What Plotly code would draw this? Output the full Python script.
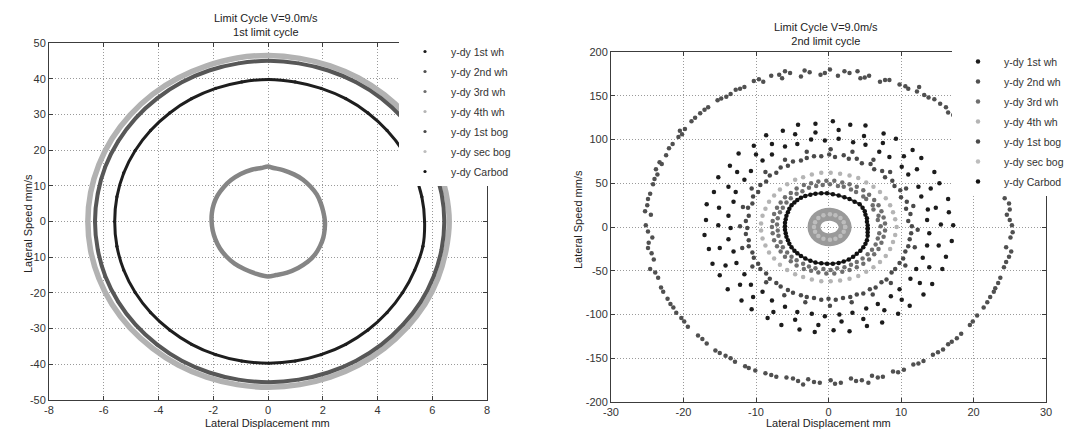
import plotly.graph_objects as go

W, H = 1070, 432
FONT = "Liberation Sans, Arial, sans-serif"

# ---------------- labels ----------------
series_names = ["y-dy 1st wh", "y-dy 2nd wh", "y-dy 3rd wh", "y-dy 4th wh",
                "y-dy 1st bog", "y-dy sec bog", "y-dy Carbod"]
legend_colors = ["#1c1c1c", "#505050", "#6e6e6e", "#b4b4b4", "#4a4a4a", "#bdbdbd", "#111111"]
title_left = "Limit Cycle V=9.0m/s<br>1st limit cycle"
title_right = "Limit Cycle V=9.0m/s<br>2nd limit cycle"
x_label = "Lateral Displacement mm"
y_label = "Lateral Speed mm/s"

L_xtick_vals = [-8, -6, -4, -2, 0, 2, 4, 6, 8]
L_xtick_text = ["-8", "-6", "-4", "-2", "0", "2", "4", "6", "8"]
L_ytick_vals = [-50, -40, -30, -20, -10, 0, 10, 20, 30, 40, 50]
L_ytick_text = ["-50", "-40", "-30", "-20", "-10", "0", "10", "20", "30", "40", "50"]
R_xtick_vals = [-30, -20, -10, 0, 10, 20, 30]
R_xtick_text = ["-30", "-20", "-10", "0", "10", "20", "30"]
R_ytick_vals = [-200, -150, -100, -50, 0, 50, 100, 150, 200]
R_ytick_text = ["-200", "-150", "-100", "-50", "0", "50", "100", "150", "200"]

# ---------------- left panel (1st limit cycle) ----------------
L_outer_x = [6.62, 6.50, 6.21, 5.73, 5.06, 4.25, 3.31, 2.27, 1.16, 0.02, -1.13, -2.24, -3.28, -4.22, -5.04, -5.70, -6.18, -6.48, -6.58,
             -6.48, -6.18, -5.70, -5.04, -4.22, -3.28, -2.24, -1.13, 0.02, 1.16, 2.27, 3.31, 4.25, 5.06, 5.73, 6.21, 6.50, 6.62]
L_outer_y = [0, 8.1, 15.9, 23.2, 29.8, 35.5, 40.2, 43.6, 45.7, 46.5, 45.8, 43.6, 40.2, 35.6, 29.8, 23.2, 15.9, 8.1, 0,
             -8.1, -15.9, -23.2, -29.8, -35.5, -40.2, -43.6, -45.7, -46.4, -45.7, -43.6, -40.2, -35.5, -29.8, -23.2, -15.9, -8.1, 0]
L_mid_x = [6.44, 6.34, 6.05, 5.58, 4.93, 4.14, 3.22, 2.20, 1.12, 0.03, -1.08, -2.15, -3.15, -4.05, -4.84, -5.47, -5.94, -6.22, -6.32,
           -6.22, -5.94, -5.47, -4.84, -4.05, -3.15, -2.15, -1.08, 0.03, 1.12, 2.20, 3.22, 4.14, 4.93, 5.58, 6.05, 6.34, 6.44]
L_mid_y = [0, 7.8, 15.4, 22.5, 28.9, 34.5, 39.0, 42.3, 44.3, 45.0, 44.3, 42.3, 39.0, 34.5, 28.9, 22.5, 15.4, 7.8, 0,
           -7.8, -15.4, -22.5, -28.9, -34.5, -39.0, -42.3, -44.3, -45.0, -44.3, -42.3, -39.0, -34.5, -28.9, -22.5, -15.4, -7.8, 0]
L_body_x = [5.72, 5.62, 5.34, 4.92, 4.35, 3.65, 2.84, 1.94, 0.99, 0.03, -0.96, -1.91, -2.79, -3.59, -4.29, -4.85, -5.27, -5.52, -5.60,
            -5.52, -5.27, -4.85, -4.29, -3.59, -2.79, -1.91, -0.96, 0.03, 0.99, 1.94, 2.84, 3.65, 4.35, 4.92, 5.36, 5.66, 5.72]
L_body_y = [0, 6.9, 13.6, 19.9, 25.5, 30.4, 34.4, 37.3, 39.1, 39.8, 39.1, 37.3, 34.4, 30.4, 25.5, 19.9, 13.6, 6.9, 0,
            -6.9, -13.6, -19.9, -25.5, -30.4, -34.4, -37.3, -39.1, -39.7, -39.1, -37.3, -34.4, -30.4, -25.5, -19.9, -13.6, -6.9, 0]
L_inner_x = [2.08, 2.02, 1.92, 1.78, 1.55, 1.28, 0.95, 0.55, 0.2, 0, -0.25, -0.6, -1.0, -1.35, -1.62, -1.84, -1.98, -2.05, -2.06,
             -2.02, -1.92, -1.76, -1.52, -1.22, -0.85, -0.45, 0, 0.3, 0.7, 1.1, 1.45, 1.72, 1.9, 2.02, 2.07, 2.08]
L_inner_y = [0, 2.7, 5.3, 7.6, 9.8, 11.7, 13.2, 14.4, 15.0, 15.4, 15.0, 14.5, 13.3, 11.6, 9.6, 7.3, 4.9, 2.4, 0,
             -2.5, -5.0, -7.5, -9.8, -11.8, -13.4, -14.6, -15.4, -15.0, -14.3, -13.0, -11.3, -9.2, -6.9, -4.5, -2.2, 0]

# which measured ring each series follows in the left panel (overlapping rings)
left_series_x = [L_mid_x, L_mid_x, L_outer_x, L_outer_x, L_inner_x, L_inner_x, L_body_x]
left_series_y = [L_mid_y, L_mid_y, L_outer_y, L_outer_y, L_inner_y, L_inner_y, L_body_y]
# visible ring bands (appearance of the overlapping markers)
left_band_x = [L_outer_x, L_mid_x, L_body_x, L_inner_x]
left_band_y = [L_outer_y, L_mid_y, L_body_y, L_inner_y]
left_band_color = ["#b2b2b2", "#575757", "#1e1e1e", "#858585"]
left_band_width = [5.5, 4, 3, 4.5]

# ---------------- right panel (2nd limit cycle) ----------------
R_2nd = [(25.3,2),(24.6,14),(25.0,20),(24.3,33),(24.8,41),(23.2,58),(22.9,64),(22.3,76),(21.2,90),(20.4,99),(19.6,111),
         (17.8,124),(16.5,131),(16.2,137),(14.6,146),(13.8,148),(12.2,155),(11.0,158),(9.8,163),(8.4,168),(7.1,166),
         (5.6,173),(4.4,170),(2.9,176),(1.3,173),(0.2,180),(-1.1,174),(-2.6,177),(-3.8,172),(-5.3,176),(-6.4,170),
         (-7.9,173),(-9.0,166),(-10.3,167),(-11.6,160),(-12.8,157),(-14.1,149),(-15.3,145),(-16.6,137),(-17.7,130),
         (-18.9,121),(-19.8,112),(-20.7,103),(-21.5,95),(-22.4,82),(-23.0,72),(-23.6,60),(-24.2,49),(-24.6,38),
         (-25.0,25),(-24.5,14),(-25.2,2),(-24.3,-12),(-24.9,-24),(-24.1,-37),(-24.6,-48),(-23.5,-58),(-23.1,-69),
         (-22.2,-82),(-21.4,-92),(-20.3,-104),(-19.4,-114),(-18.0,-124),(-16.8,-133),(-15.6,-141),(-14.2,-147),
         (-12.9,-154),(-11.5,-159),(-10.1,-164),(-8.7,-167),(-7.2,-171),(-5.8,-172),(-4.2,-176),(-2.8,-174),
         (-1.2,-178),(0.3,-175),(1.7,-178),(3.1,-173),(4.6,-175),(6.0,-170),(7.5,-171),(8.9,-165),(10.4,-163),
         (11.7,-157),(13.1,-153),(14.4,-146),(15.8,-140),(17.0,-131),(18.3,-122),(19.5,-112),(20.5,-101),
         (21.4,-92),(22.3,-80),(23.0,-70),(23.7,-58),(24.2,-46),(24.9,-34),(24.5,-23),(25.1,-12),
         (-20.5,110),(-13.5,152),(-6.0,178),(4.0,178),(12.5,160),(-23.8,66),(-24.9,-5),(-21.0,-98),(-13.5,-150),
         (-3.5,-180),(5.5,-178),(16.5,-134),(22.8,-74),(25.4,-6),
         (25.0,8),(24.9,27),(24.0,47),(23.6,52),(22.6,70),(21.7,84),(20.9,95),(19.0,117),(17.2,128),(15.4,141),
         (13.2,151),(10.6,161),(7.8,168),(5.0,171),(2.2,178),(-0.5,176),(-3.3,179),(-6.8,174),(-9.6,169),
         (-12.2,158),(-14.8,147),(-17.1,134),(-18.4,125),(-20.2,106),(-22.0,90),(-23.3,74),(-24.0,55),(-24.9,32),
         (-25.3,18),(-24.8,-18),(-24.4,-30),(-23.9,-52),(-22.8,-74),(-21.8,-88),(-19.9,-108),(-17.4,-128),
         (-15.0,-144),(-11.0,-161),(-7.9,-169),(-4.9,-173),(-2.0,-177),(0.9,-179),(3.8,-176),(6.8,-172),
         (9.6,-166),(12.4,-156),(15.1,-143),(17.7,-127),(19.9,-108),(21.9,-86),(23.4,-64),(24.5,-40),(25.2,-28)]

R_1st = [(17.2,2),(16.6,17),(16.5,32),(15.3,50),(14.6,63),(12.8,79),(11.6,88),(9.3,101),(7.6,107),(5.1,116),(3.0,117),
         (0.6,121),(-1.8,118),(-4.2,117),(-6.3,110),(-8.6,105),(-10.3,93),(-12.4,84),(-13.6,70),(-15.2,57),(-15.8,40),
         (-16.8,26),(-16.9,8),(-17.1,-9),(-16.5,-25),(-16.0,-42),(-15.0,-55),(-13.9,-71),(-12.0,-84),(-10.6,-94),
         (-8.4,-104),(-6.5,-112),(-4.0,-117),(-1.9,-120),(0.7,-118),(2.9,-119),(5.3,-113),(7.4,-109),(9.6,-99),
         (11.2,-90),(13.1,-77),(14.3,-65),(15.7,-48),(16.2,-34),(17.0,-16),
         (13.6,8),(13.7,20),(12.8,35),(12.4,46),(11.0,60),(10.1,69),(8.4,80),(7.0,86),(5.1,94),(3.4,97),(1.4,101),
         (-0.5,99),(-2.4,100),(-4.3,95),(-6.0,92),(-7.8,83),(-9.1,76),(-10.7,64),(-11.6,54),(-12.8,40),(-13.1,29),
         (-13.8,13),(-13.5,-1),(-13.8,-14),(-13.1,-28),(-12.7,-41),(-11.6,-54),(-10.7,-66),(-9.1,-74),(-7.8,-84),
         (-6.0,-91),(-4.3,-97),(-2.3,-99),(-0.5,-102),(1.5,-100),(3.3,-98),(5.2,-93),(6.8,-88),(8.6,-79),(9.8,-71),
         (11.3,-59),(12.1,-48),(13.0,-35),(13.6,-21),(13.9,-7),
         (15.5,3),(14.8,22),(14.1,44),(12.2,66),(10.4,81),(7.5,96),(4.9,104),(1.4,111),(-1.8,108),(-4.6,106),
         (-7.8,95),(-10.0,83),(-12.6,63),(-13.8,46),(-15.1,22),(-15.2,2),(-15.0,-24),(-14.2,-44),(-12.2,-66),
         (-10.4,-80),(-7.6,-97),(-4.6,-106),(-1.4,-112),(1.8,-108),(4.8,-105),(7.7,-95),(10.1,-83),(12.6,-64),
         (13.9,-46),(15.2,-21)]

R_3rd = [(7.2,1),(6.8,8),(6.9,13),(6.2,20),(6.1,25),(5.2,32),(4.8,35),(3.8,40),(3.1,43),(2.1,46),(1.3,47),(0.2,49),
         (-0.8,48),(-1.7,47),(-2.7,45),(-3.6,41),(-4.4,38),(-5.2,33),(-5.8,28),(-6.3,22),(-6.7,17),(-7.0,10),(-7.1,3),
         (-7.0,-4),(-6.9,-10),(-6.6,-17),(-6.3,-23),(-5.7,-29),(-5.1,-34),(-4.4,-38),(-3.5,-42),(-2.7,-45),(-1.8,-47),
         (-0.7,-48),(0.3,-49),(1.2,-47),(2.2,-46),(3.1,-43),(3.9,-40),(4.7,-36),(5.4,-31),(6.0,-26),(6.5,-20),
         (6.8,-13),(7.0,-7),
         (7.8,4),(7.6,11),(7.3,18),(6.9,25),(6.3,31),(5.6,37),(4.8,42),(3.9,46),(2.9,49),(1.9,51),(0.8,53),(-0.3,53),
         (-1.4,52),(-2.4,50),(-3.4,48),(-4.4,44),(-5.2,39),(-6.0,34),(-6.6,28),(-7.1,22),(-7.5,15),(-7.7,7),(-7.8,0),
         (-7.7,-7),(-7.5,-15),(-7.1,-22),(-6.6,-28),(-6.0,-34),(-5.2,-39),(-4.4,-44),(-3.4,-48),(-2.4,-50),(-1.4,-52),
         (-0.3,-53),(0.8,-53),(1.9,-51),(2.9,-49),(3.9,-46),(4.8,-42),(5.6,-37),(6.3,-31),(6.9,-25),(7.3,-18),
         (7.6,-11),(7.8,-4)]

R_4th = [(9.4,0),(9.2,9),(8.9,17),(8.5,25),(7.9,33),(7.1,40),(6.2,46),(5.2,51),(4.1,56),(2.9,59),(1.6,61),(0.3,62),
         (-1.0,62),(-2.3,60),(-3.5,57),(-4.6,54),(-5.7,49),(-6.7,43),(-7.5,36),(-8.2,29),(-8.7,21),(-9.1,13),(-9.3,4),
         (-9.3,-4),(-9.1,-13),(-8.7,-21),(-8.2,-29),(-7.5,-36),(-6.7,-43),(-5.7,-49),(-4.6,-54),(-3.5,-57),(-2.3,-60),
         (-1.0,-62),(0.3,-62),(1.6,-61),(2.9,-59),(4.1,-56),(5.2,-51),(6.2,-46),(7.1,-40),(7.9,-33),(8.5,-25),
         (8.9,-17),(9.2,-9)]

R_1bog = [(11.5,1),(11.0,7),(11.3,15),(10.7,21),(10.8,29),(10.0,34),(9.9,42),(9.1,47),(8.8,53),(7.8,57),(7.4,64),
          (6.3,66),(5.8,72),(4.6,73),(3.9,78),(2.8,78),(2.1,82),(0.9,80),
          (0.1,83),(-1.0,81),(-2.0,81),(-3.0,79),(-3.8,76),(-4.9,75),(-5.6,70),(-6.6,68),(-7.2,62),(-8.1,59),
          (-8.6,52),(-9.4,48),(-9.7,40),(-10.4,35),(-10.5,27),(-11.1,22),(-11.0,13),(-11.4,7),
          (-11.2,-1),(-11.4,-8),(-11.0,-15),(-11.0,-22),(-10.5,-29),(-10.3,-35),(-9.7,-42),(-9.4,-48),(-8.6,-53),
          (-8.1,-59),(-7.2,-64),(-6.6,-68),(-5.6,-72),(-4.9,-75),(-3.8,-78),(-3.0,-80),(-2.0,-81),(-1.0,-83),
          (0.0,-82),(1.0,-83),(2.0,-81),(3.0,-80),(3.9,-77),(4.8,-76),(5.7,-71),(6.5,-69),(7.3,-63),(8.0,-60),
          (8.7,-52),(9.2,-48),(9.8,-41),(10.3,-36),(10.6,-28),(11.0,-22),(11.2,-14),(11.4,-7),
          (12.3,-3),(11.7,24),(10.7,44),(8.5,63),(6.2,77),(3.3,86),(0.3,89),(-3.0,86),(-6.0,77),(-8.7,63),
          (-10.6,44),(-11.8,23),(-12.2,1),(-11.9,-24),(-10.5,-45),(-8.6,-63),(-6.1,-78),(-3.2,-86),(0.2,-90),
          (3.2,-86),(6.1,-77),(8.6,-64),(10.6,-44),(11.9,-23)]

R_secbog = [(2.3,0),(2.1,5.5),(1.65,10.2),(0.95,13.4),(0.2,14.6),(-0.7,13.5),(-1.4,10.4),(-1.85,5.5),(-2.0,0),
            (-1.85,-5.5),(-1.4,-10.4),(-0.7,-13.5),(0.2,-14.6),(0.95,-13.4),(1.65,-10.2),(2.1,-5.5),(2.3,0)]

R_carbod = [(5.4,-2),(5.4,2),(5.3,6),(5.3,10),(5.1,14),(5.0,18),(4.7,22),(4.3,26),(3.6,29),(2.9,32),(2.2,34),(1.4,36),
            (0.6,37.5),(-0.2,38.5),(-1.0,38.5),(-1.8,38),(-2.5,37),(-3.2,35.5),(-3.8,33.5),(-4.3,31),(-4.7,28),
            (-5.1,25),(-5.4,21),(-5.6,17),(-5.8,13),(-5.9,9),(-6.0,5),(-6.0,1),(-6.0,-3),(-5.9,-7),(-5.8,-11),
            (-5.6,-15),(-5.4,-19),(-5.1,-23),(-4.7,-27),(-4.3,-30),(-3.8,-33),(-3.2,-36),(-2.5,-38.5),(-1.8,-40.5),
            (-1.0,-41.5),(-0.2,-42),(0.6,-42),(1.4,-41),(2.1,-39.5),(2.8,-37),(3.4,-34),(3.9,-30.5),(4.4,-27),
            (4.8,-23),(5.1,-19),(5.3,-15),(5.4,-10),(5.4,-6),(5.4,-2)]

right_series = [R_1st, R_2nd, R_3rd, R_4th, R_1bog, R_secbog, R_carbod]

# ---------------- figure ----------------
fig = go.Figure()

def xs(pts):
    return [p[0] for p in pts]

def ys(pts):
    return [p[1] for p in pts]

# left panel: legend entries (markers), then visible ring bands on top
for i, name in enumerate(series_names):
    fig.add_trace(go.Scatter(
        x=left_series_x[i], y=left_series_y[i], mode="markers", name=name,
        marker=dict(size=3.2, color=legend_colors[i]), legend="legend",
        legendgroup="L%d" % i, xaxis="x", yaxis="y", hoverinfo="skip"))
for bx, by, c, w in zip(left_band_x, left_band_y, left_band_color, left_band_width):
    fig.add_trace(go.Scatter(
        x=bx, y=by, mode="lines", line=dict(color=c, width=w, shape="spline", smoothing=1.0),
        showlegend=False, xaxis="x", yaxis="y", hoverinfo="skip"))

# right panel
for i, name in enumerate(series_names):
    pts = right_series[i]
    if name == "y-dy sec bog":
        fig.add_trace(go.Scatter(
            x=xs(pts), y=ys(pts), mode="lines",
            line=dict(color="#9a9a9a", width=13, shape="spline", smoothing=1.0),
            showlegend=False, xaxis="x2", yaxis="y2", hoverinfo="skip"))
    if name == "y-dy Carbod":
        fig.add_trace(go.Scatter(
            x=xs(pts), y=ys(pts), mode="lines",
            line=dict(color="#3a3a3a", width=2, shape="spline", smoothing=1.0),
            showlegend=False, xaxis="x2", yaxis="y2", hoverinfo="skip"))
    fig.add_trace(go.Scatter(
        x=xs(pts), y=ys(pts), mode="markers", name=name,
        marker=dict(size=4.5, color=legend_colors[i]), legend="legend2",
        legendgroup="R%d" % i, xaxis="x2", yaxis="y2", hoverinfo="skip"))

tickfont = dict(family=FONT, size=11, color="#333333")

def ax(**kw):
    d = dict(showline=True, linecolor="#3c3c3c", linewidth=1, mirror="ticks",
             ticks="inside", ticklen=4, tickcolor="#3c3c3c", tickwidth=1,
             showgrid=True, gridcolor="#9a9a9a", griddash="1px,2px", gridwidth=1,
             zeroline=False, tickfont=tickfont, fixedrange=True, tickmode="array")
    d.update(kw)
    return d

fig.update_layout(
    width=W, height=H,
    margin=dict(l=0, r=0, t=0, b=0, autoexpand=False),
    paper_bgcolor="white", plot_bgcolor="white",
    font=dict(family=FONT, size=11, color="#333333"),
    xaxis=ax(domain=[49 / W, 487 / W], range=[-8, 8], tickvals=L_xtick_vals, ticktext=L_xtick_text, anchor="y"),
    yaxis=ax(domain=[1 - 400 / H, 1 - 43 / H], range=[-50, 50], tickvals=L_ytick_vals, ticktext=L_ytick_text, anchor="x"),
    xaxis2=ax(domain=[611 / W, 1046 / W], range=[-30, 30], tickvals=R_xtick_vals, ticktext=R_xtick_text, anchor="y2"),
    yaxis2=ax(domain=[1 - 402 / H, 1 - 52 / H], range=[-200, 200], tickvals=R_ytick_vals, ticktext=R_ytick_text, anchor="x2"),
    legend=dict(x=399 / W, xanchor="left", y=1 - 37 / H, yanchor="top",
                bgcolor="white", borderwidth=0, tracegroupgap=1, itemwidth=42,
                font=dict(family=FONT, size=10.5, color="#333333")),
    legend2=dict(x=952 / W, xanchor="left", y=1 - 47 / H, yanchor="top",
                 bgcolor="white", borderwidth=0, tracegroupgap=1, itemwidth=42,
                 font=dict(family=FONT, size=10.5, color="#333333")),
    showlegend=True,
)

ann_font = dict(family=FONT, size=11, color="#222222")
fig.add_annotation(text=title_left, x=266 / W, y=1 - 24.5 / H, xref="paper", yref="paper",
                   xanchor="center", yanchor="middle", showarrow=False, font=ann_font)
fig.add_annotation(text=title_right, x=826 / W, y=1 - 34 / H, xref="paper", yref="paper",
                   xanchor="center", yanchor="middle", showarrow=False, font=ann_font)
fig.add_annotation(text=x_label, x=267 / W, y=1 - 423 / H, xref="paper", yref="paper",
                   xanchor="center", yanchor="middle", showarrow=False, font=ann_font)
fig.add_annotation(text=x_label, x=828 / W, y=1 - 423 / H, xref="paper", yref="paper",
                   xanchor="center", yanchor="middle", showarrow=False, font=ann_font)
fig.add_annotation(text=y_label, x=28 / W, y=1 - 224 / H, xref="paper", yref="paper",
                   xanchor="center", yanchor="middle", showarrow=False, textangle=-90, font=ann_font)
fig.add_annotation(text=y_label, x=578 / W, y=1 - 220 / H, xref="paper", yref="paper",
                   xanchor="center", yanchor="middle", showarrow=False, textangle=-90, font=ann_font)

fig.write_html("out.html",
               config={"displayModeBar": False, "staticPlot": True},
               post_script="document.body.style.margin='0';document.body.style.padding='0';"
                           "document.body.style.overflow='hidden';")
